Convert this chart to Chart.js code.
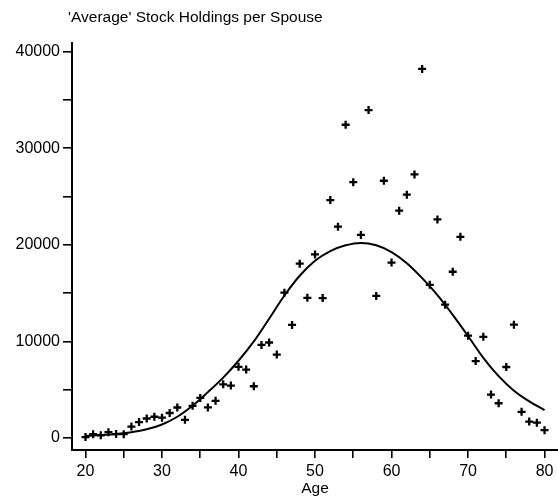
<!DOCTYPE html>
<html>
<head>
<meta charset="utf-8">
<script src="https://cdn.jsdelivr.net/npm/chart.js@4/dist/chart.umd.min.js"></script>
<style>
  html, body { margin: 0; padding: 0; background: #ffffff; }
  #wrap { width: 558px; height: 498px; }
</style>
</head>
<body>
<div id="wrap"><canvas id="chart" width="558" height="498"></canvas></div>
<script>
// Age of the household head (years)
const ages = [20, 21, 22, 23, 24, 25, 26, 27, 28, 29,
              30, 31, 32, 33, 34, 35, 36, 37, 38, 39,
              40, 41, 42, 43, 44, 45, 46, 47, 48, 49,
              50, 51, 52, 53, 54, 55, 56, 57, 58, 59,
              60, 61, 62, 63, 64, 65, 66, 67, 68, 69,
              70, 71, 72, 73, 74, 75, 76, 77, 78, 79, 80];

// Average stock holdings per spouse at each age
const holdings = [100, 390, 280, 610, 410, 400, 1180, 1650, 2020, 2200,
                  2110, 2590, 3160, 1880, 3330, 4150, 3170, 3850, 5560, 5430,
                  7370, 7080, 5360, 9640, 9890, 8640, 15050, 11710, 18050, 14510,
                  19000, 14490, 24630, 21880, 32430, 26480, 21020, 33950, 14710, 26630,
                  18160, 23530, 25190, 27290, 38210, 15860, 22630, 13800, 17210, 20830,
                  10590, 7970, 10480, 4500, 3600, 7350, 11730, 2710, 1700, 1590, 810];

// Smoothed age profile
const fitAges   = [20, 22, 24, 26, 28, 30, 32, 34, 36, 38,
                   40, 42, 44, 46, 48, 50, 52, 54, 56, 58,
                   60, 62, 64, 66, 68, 70, 72, 74, 76, 78, 80];
const fitValues = [200, 300, 420, 600, 900, 1400, 2200, 3350, 4750, 6250,
                   8000, 10000, 12350, 14750, 16800, 18350, 19350, 19950, 20200, 19950,
                   19250, 18100, 16550, 14800, 12750, 10560, 8300, 6400, 4900, 3800, 2880];

// Tick marks and the ones that carry a label
const xTicks = [20, 25, 30, 35, 40, 45, 50, 55, 60, 65, 70, 75, 80];
const xTickLabels = [20, 30, 40, 50, 60, 70, 80];
const yTicks = [0, 5000, 10000, 15000, 20000, 25000, 30000, 35000, 40000];
const yTickLabels = [0, 10000, 20000, 30000, 40000];

const chartTitle = "'Average' Stock Holdings per Spouse";
const xTitle = 'Age';

const FONT = '"Liberation Sans", Arial, Helvetica, sans-serif';
const INK = '#000000';

const titlePlugin = {
  id: 'cornerTitle',
  afterDraw(chart) {
    const ctx = chart.ctx;
    ctx.save();
    ctx.font = '15.5px ' + FONT;
    ctx.fillStyle = INK;
    ctx.textAlign = 'left';
    ctx.textBaseline = 'alphabetic';
    ctx.fillText(chartTitle, 68, 22);
    ctx.restore();
  }
};

new Chart(document.getElementById('chart'), {
  type: 'scatter',
  data: {
    datasets: [
      {
        label: 'Holdings',
        data: ages.map((a, i) => ({ x: a, y: holdings[i] })),
        pointStyle: 'cross',
        pointRadius: 4,
        pointBorderWidth: 2.3,
        borderColor: INK,
        backgroundColor: INK,
        showLine: false
      },
      {
        label: 'Fit',
        data: fitAges.map((a, i) => ({ x: a, y: fitValues[i] })),
        showLine: true,
        pointRadius: 0,
        borderColor: INK,
        borderWidth: 2,
        tension: 0.4,
        fill: false
      }
    ]
  },
  options: {
    responsive: false,
    animation: false,
    layout: { padding: { top: 43, right: 0, bottom: 0, left: 0 }, autoPadding: false },
    plugins: {
      legend: { display: false },
      tooltip: { enabled: false },
      title: { display: false }
    },
    scales: {
      x: {
        type: 'linear',
        min: 18.235,
        max: 81.76,
        afterFit(scale) { scale.height = 48; },
        afterBuildTicks(scale) { scale.ticks = xTicks.map(v => ({ value: v })); },
        border: { display: true, color: INK, width: 2 },
        grid: { drawOnChartArea: false, drawTicks: true, tickLength: 8, color: INK, lineWidth: 1.6 },
        ticks: {
          autoSkip: false,
          maxRotation: 0,
          padding: 4,
          color: INK,
          font: { family: FONT, size: 16 },
          callback: (v) => xTickLabels.includes(v) ? String(v) : ''
        },
        title: {
          display: true,
          text: xTitle,
          color: INK,
          font: { family: FONT, size: 15.5 },
          padding: { top: 0, bottom: 0 }
        }
      },
      y: {
        type: 'linear',
        min: -1240,
        max: 40890,
        afterFit(scale) { scale.width = 72; },
        afterBuildTicks(scale) { scale.ticks = yTicks.map(v => ({ value: v })); },
        border: { display: true, color: INK, width: 2 },
        grid: { drawOnChartArea: false, drawTicks: true, tickLength: 9, color: INK, lineWidth: 1.6 },
        ticks: {
          autoSkip: false,
          padding: 3,
          color: INK,
          font: { family: FONT, size: 16 },
          callback: (v) => yTickLabels.includes(v) ? String(v) : ''
        }
      }
    }
  },
  plugins: [titlePlugin]
});
</script>
</body>
</html>
